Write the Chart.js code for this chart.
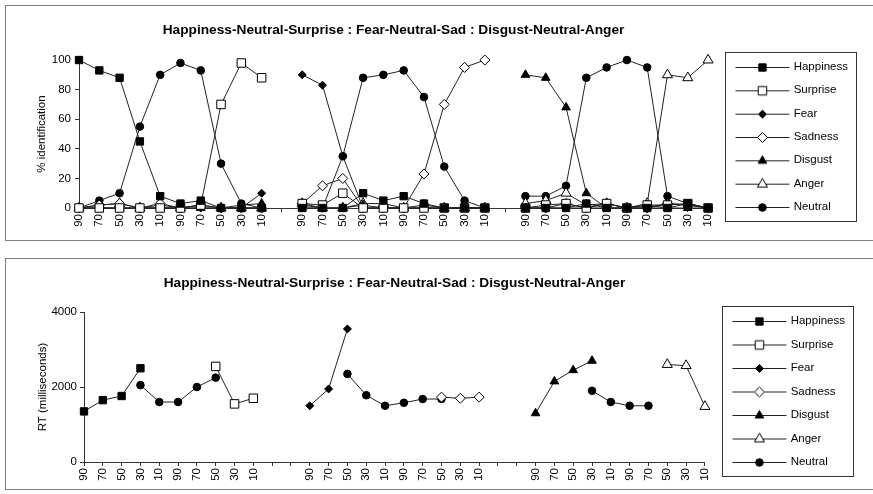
<!DOCTYPE html>
<html>
<head>
<meta charset="utf-8">
<script src="https://cdn.jsdelivr.net/npm/chart.js@4.4.1/dist/chart.umd.min.js"></script>
<style>
  html, body { margin: 0; padding: 0; background: #fff; overflow: hidden; }
  .panel { position: absolute; left: 5px; width: 900px; border: 1px solid #808080; }
  #p1 { top: 5px; height: 234px; }
  #p2 { top: 258px; height: 230px; }
  canvas { position: absolute; left: 0; }
  #idChart { top: 0; }
  #rtChart { top: 248px; }
</style>
</head>
<body>
<div class="panel" id="p1"></div>
<div class="panel" id="p2"></div>
<canvas id="idChart" width="873" height="248"></canvas>
<canvas id="rtChart" width="873" height="246"></canvas>
<script>
const _ = null;
const FONT = "'Liberation Sans', Arial, Helvetica, sans-serif";
const TITLE = 'Happiness-Neutral-Surprise : Fear-Neutral-Sad : Disgust-Neutral-Anger';
const SERIES = ['Happiness', 'Surprise', 'Fear', 'Sadness', 'Disgust', 'Anger', 'Neutral'];

// morph levels of each continuum, blank categories between the three continua
const LEVELS = ['90', '70', '50', '30', '10', '90', '70', '50', '30', '10'];
const idLabels = [...LEVELS, '', ...LEVELS, '', ...LEVELS];
const rtLabels = [...LEVELS, '', '', ...LEVELS, '', '', ...LEVELS];

// % identification (top panel)
const idHappiness = [100, 93, 88, 45, 8, 3, 5, 0, 0, 0, _, 0, 0, 0, 10, 5, 8, 3, 0, 0, 0, _, 0, 0, 0, 3, 0, 0, 0, 0, 3, 0];
const idSurprise  = [0, 0, 0, 0, 0, 0, 2, 70, 98, 88, _, 3, 2, 10, 0, 0, 0, 0, 0, 0, 0, _, 0, 2, 3, 0, 3, 0, 2, 2, 3, 0];
const idFear      = [0, 0, 0, 0, 0, 0, 0, 0, 0, 10, _, 90, 83, 35, 0, 0, 0, 0, 0, 0, 0, _, 0, 0, 0, 0, 0, 0, 0, 3, 2, 0];
const idSadness   = [0, 2, 3, 0, 3, 0, 2, 0, 0, 0, _, 3, 15, 20, 0, 0, 0, 23, 70, 95, 100, _, 0, 0, 3, 0, 3, 0, 0, 3, 2, 0];
const idDisgust   = [0, 0, 0, 0, 0, 0, 0, 0, 2, 3, _, 0, 0, 0, 2, 0, 0, 0, 0, 0, 0, _, 90, 88, 68, 10, 0, 0, 2, 0, 0, 0];
const idAnger     = [0, 2, 3, 0, 2, 0, 2, 0, 0, 0, _, 3, 0, 0, 3, 3, 0, 2, 0, 0, 0, _, 3, 5, 10, 2, 3, 0, 3, 90, 88, 100];
const idNeutral   = [0, 5, 10, 55, 90, 98, 93, 30, 3, 0, _, 2, 0, 35, 88, 90, 93, 75, 28, 5, 0, _, 8, 8, 15, 88, 95, 100, 95, 8, 3, 0];

// RT in milliseconds (bottom panel)
const rtHappiness = [1350, 1650, 1760, 2500, _, _, _, _, _, _, _, _, _, _, _, _, _, _, _, _, _, _, _, _, _, _, _, _, _, _, _, _, _, _];
const rtSurprise  = [_, _, _, _, _, _, _, 2550, 1550, 1700, _, _, _, _, _, _, _, _, _, _, _, _, _, _, _, _, _, _, _, _, _, _, _, _];
const rtFear      = [_, _, _, _, _, _, _, _, _, _, _, _, 1500, 1950, 3550, _, _, _, _, _, _, _, _, _, _, _, _, _, _, _, _, _, _, _];
const rtSadness   = [_, _, _, _, _, _, _, _, _, _, _, _, _, _, _, _, _, _, _, 1730, 1700, 1730, _, _, _, _, _, _, _, _, _, _, _, _];
const rtDisgust   = [_, _, _, _, _, _, _, _, _, _, _, _, _, _, _, _, _, _, _, _, _, _, _, _, 1300, 2150, 2450, 2700, _, _, _, _, _, _];
const rtAnger     = [_, _, _, _, _, _, _, _, _, _, _, _, _, _, _, _, _, _, _, _, _, _, _, _, _, _, _, _, _, _, _, 2600, 2570, 1480];
const rtNeutral   = [_, _, _, 2050, 1600, 1600, 2000, 2250, _, _, _, _, _, _, 2350, 1780, 1500, 1580, 1680, 1680, _, _, _, _, _, _, _, 1900, 1600, 1500, 1500, _, _, _];

// marker look per series (same order as SERIES)
const markers = [
  { pointStyle: 'rect', radius: 5.2, filled: true },
  { pointStyle: 'rect', radius: 6, filled: false },
  { pointStyle: 'rectRot', radius: 4, filled: true },
  { pointStyle: 'rectRot', radius: 5, filled: false },
  { pointStyle: 'triangle', radius: 5, filled: true },
  { pointStyle: 'triangle', radius: 5.8, filled: false },
  { pointStyle: 'circle', radius: 3.8, filled: true }
];

Chart.defaults.font.family = FONT;
Chart.defaults.color = '#000';

function buildDatasets(values) {
  return SERIES.map((name, i) => ({
    label: name,
    data: values[i],
    borderColor: '#222',
    borderWidth: 1,
    pointStyle: markers[i].pointStyle,
    pointRadius: markers[i].radius,
    pointBackgroundColor: markers[i].filled ? '#000' : '#fff',
    pointBorderColor: '#000',
    pointBorderWidth: 1,
    spanGaps: false,
    tension: 0,
    fill: false,
    clip: false
  }));
}

// legend swatch: short line with the marker in the middle
function legendIcon(m) {
  const c = document.createElement('canvas');
  c.width = 76; c.height = 14;
  const g = c.getContext('2d');
  g.strokeStyle = '#222';
  g.lineWidth = 1;
  g.beginPath(); g.moveTo(19.5, 7.5); g.lineTo(73.5, 7.5); g.stroke();
  g.fillStyle = m.filled ? '#000' : '#fff';
  g.strokeStyle = '#000';
  Chart.helpers.drawPoint(g, { pointStyle: m.pointStyle, radius: m.radius, rotation: 0, borderWidth: 1 }, 46.5, 7.5);
  return c;
}
const icons = markers.map(legendIcon);

// box round the legend, like the Excel legend frame
const legendFrame = {
  id: 'legendFrame',
  afterDraw(chart) {
    const hb = chart.legend.legendHitBoxes;
    if (!hb || !hb.length) return;
    const first = hb[0], last = hb[hb.length - 1];
    const ctx = chart.ctx;
    const x = Math.round(first.left + 5) + 0.5;
    const y = Math.round(first.top - 9) + 0.5;
    const h = Math.round(last.top + last.height + 9 - y);
    ctx.save();
    ctx.strokeStyle = '#333';
    ctx.lineWidth = 1;
    ctx.strokeRect(x, y, 131, h);
    ctx.restore();
  }
};

function makeOptions(cfg) {
  return {
    responsive: false,
    animation: false,
    layout: { padding: { left: 0, top: 0, bottom: 0, right: cfg.padRight } },
    plugins: {
      title: {
        display: true, text: TITLE, fullSize: false, color: '#000',
        font: { family: FONT, size: 13.7, weight: 'bold' },
        padding: cfg.titlePad
      },
      legend: {
        position: 'right',
        align: 'start',
        title: { display: true, text: '', padding: { top: cfg.legendTop, bottom: 0 } },
        labels: {
          usePointStyle: true,
          pointStyleWidth: 68,
          padding: cfg.legendGap,
          color: '#000',
          font: { family: FONT, size: 11.5 },
          generateLabels: chart => chart.data.datasets.map((ds, i) => ({
            text: ds.label, pointStyle: icons[i], datasetIndex: i, hidden: false,
            lineWidth: 0, fillStyle: 'transparent', strokeStyle: 'transparent', fontColor: '#000'
          }))
        }
      },
      tooltip: { enabled: false }
    },
    scales: {
      x: {
        type: 'category',
        offset: false,
        grid: { display: true, drawOnChartArea: false, drawTicks: true, tickLength: 4, color: '#333' },
        border: { display: true, color: '#333', width: 1 },
        ticks: { autoSkip: false, minRotation: 90, maxRotation: 90, padding: 2, color: '#000', font: { family: FONT, size: 11.5 } },
        afterFit: s => { s.height = cfg.xHeight; }
      },
      y: {
        min: 0, max: cfg.yMax,
        grid: { display: true, drawOnChartArea: false, drawTicks: true, tickLength: 4, color: '#333' },
        border: { display: true, color: '#333', width: 1 },
        ticks: {
          stepSize: cfg.yStep, padding: cfg.yTickPad, color: '#000',
          font: { family: FONT, size: 11.5 },
          callback: v => String(v)
        },
        title: { display: true, text: cfg.yTitle, color: '#000', font: { family: FONT, size: 11.5 }, padding: { top: cfg.yTitlePad, bottom: 0 } },
        afterFit: s => { s.width = cfg.yWidth; }
      }
    }
  };
}

new Chart(document.getElementById('idChart'), {
  type: 'line',
  data: {
    labels: idLabels,
    datasets: buildDatasets([idHappiness, idSurprise, idFear, idSadness, idDisgust, idAnger, idNeutral])
  },
  options: makeOptions({
    padRight: 15, titlePad: { top: 22.3, bottom: 21.3 },
    legendTop: 35, legendGap: 11.83,
    xHeight: 40, yMax: 100, yStep: 20, yTickPad: 4, yWidth: 79,
    yTitle: '% identification', yTitlePad: 35.1
  }),
  plugins: [legendFrame]
});

new Chart(document.getElementById('rtChart'), {
  type: 'line',
  data: {
    labels: rtLabels,
    datasets: buildDatasets([rtHappiness, rtSurprise, rtFear, rtSadness, rtDisgust, rtAnger, rtNeutral])
  },
  options: makeOptions({
    padRight: 18, titlePad: { top: 27.3, bottom: 20.3 },
    legendTop: 40.85, legendGap: 12,
    xHeight: 32, yMax: 4000, yStep: 2000, yTickPad: 3, yWidth: 84,
    yTitle: 'RT (milliseconds)', yTitlePad: 36.1
  }),
  plugins: [legendFrame]
});
</script>
</body>
</html>
